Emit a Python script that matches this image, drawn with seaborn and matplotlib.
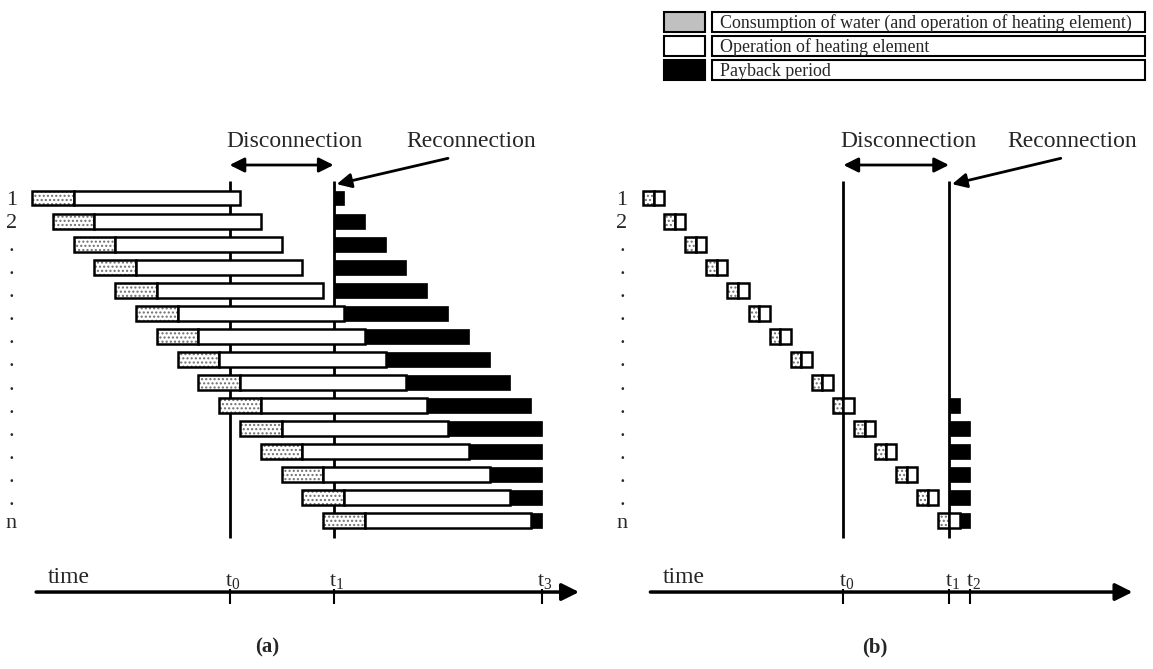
import numpy as np
import matplotlib
matplotlib.use("Agg")
import matplotlib.pyplot as plt
import seaborn as sns
from matplotlib.patches import Rectangle

# ---------------- data (time in "row shift" units) ----------------
rows = list(range(1, 16))
row_labels = ["1", "2"] + ["."] * 12 + ["n"]

# panel (a): long operation of heating element
a_start = [0, 1, 2, 3, 4, 5, 6, 7, 8, 9, 10, 11, 12, 13, 14]
a_dot_end = [2, 3, 4, 5, 6, 7, 8, 9, 10, 11, 12, 13, 14, 15, 16]
a_heat_end = [10, 11, 12, 13, 14, 15, 16, 17, 18, 19, 20, 21, 22, 23, 24]
a_pay_start = [14.5, 14.5, 14.5, 14.5, 14.5, 15, 16, 17, 18, 19, 20, 21, 22, 23, 24]
a_pay_end = [15, 16, 17, 18, 19, 20, 21, 22, 23, 24, 24.5, 24.5, 24.5, 24.5, 24.5]
a_marks = {"t_0": 9.5, "t_1": 14.5, "t_3": 24.5}

# panel (b): short operation of heating element
b_start = [0, 1, 2, 3, 4, 5, 6, 7, 8, 9, 10, 11, 12, 13, 14]
b_dot_end = [0.5, 1.5, 2.5, 3.5, 4.5, 5.5, 6.5, 7.5, 8.5, 9.5, 10.5, 11.5, 12.5, 13.5, 14.5]
b_heat_end = [1, 2, 3, 4, 5, 6, 7, 8, 9, 10, 11, 12, 13, 14, 15]
b_pay_start = [np.nan] * 9 + [14.5, 14.5, 14.5, 14.5, 14.5, 15.0]
b_pay_end = [np.nan] * 9 + [15.0, 15.5, 15.5, 15.5, 15.5, 15.5]
b_marks = {"t_0": 9.5, "t_1": 14.5, "t_2": 15.5}

legend_labels = ["Consumption of water (and operation of heating element)",
                 "Operation of heating element",
                 "Payback period"]
legend_colors = ["#C0C0C0", "white", "black"]

# ---------------- style ----------------
sns.set_style("white")
plt.rcParams["font.family"] = ["Liberation Serif", "DejaVu Serif"]
plt.rcParams["mathtext.fontset"] = "custom"
plt.rcParams["mathtext.rm"] = "Liberation Serif"
plt.rcParams["mathtext.it"] = "Liberation Serif:italic"
plt.rcParams["hatch.linewidth"] = 1.0

W, H = 1153, 669
fig = plt.figure(figsize=(W / 100, H / 100), dpi=100)
fig.patch.set_facecolor("white")

BIG = 17
BAR_H = 0.65
LW = 1.8


def draw_panel(ax, start, dot_end, heat_end, pay_start, pay_end, marks,
               line_top, line_bot, recon_text_x, recon_from, axis_start, axis_end,
               time_x, tag, tag_x):
    start = np.array(start, float)
    dot_end = np.array(dot_end, float)
    heat_end = np.array(heat_end, float)
    pay_start = np.array(pay_start, float)
    pay_end = np.array(pay_end, float)
    keys = list(marks)
    t0, t1 = marks[keys[0]], marks[keys[1]]

    # disconnection / reconnection vertical lines (behind the bars)
    ax.vlines([t0, t1], line_top, line_bot, color="black", lw=2, zorder=1)

    # dotted part: water consumption
    ax.barh(rows, dot_end - start, left=start, height=BAR_H, color="white",
            edgecolor="#6e6e6e", hatch="....", lw=0, zorder=2)
    ax.barh(rows, dot_end - start, left=start, height=BAR_H, fill=False,
            edgecolor="black", lw=LW, zorder=3)
    # white part: heating element only
    ax.barh(rows, heat_end - dot_end, left=dot_end, height=BAR_H, color="white",
            edgecolor="black", lw=LW, zorder=3)
    # black part: payback
    ok = ~np.isnan(pay_start)
    ax.barh(np.array(rows)[ok], (pay_end - pay_start)[ok], left=pay_start[ok],
            height=BAR_H, color="black", edgecolor="black", lw=0.5, zorder=3)

    # row labels
    for r, lab in zip(rows, row_labels):
        ax.text(-1.0, r, lab, fontsize=16, ha="center", va="center_baseline")

    # disconnection arrow + text
    ax.annotate("", xy=(t1, -0.43), xytext=(t0, -0.43),
                arrowprops=dict(arrowstyle="<|-|>", color="black", lw=2,
                                mutation_scale=22, shrinkA=0, shrinkB=0))
    ax.text((t0 + t1) / 2 + 0.6, -1.45, "Disconnection", fontsize=BIG,
            ha="center", va="center")
    ax.text(recon_text_x, -1.45, "Reconnection", fontsize=BIG,
            ha="left", va="center")
    ax.annotate("", xy=(t1 + 0.15, 0.4), xytext=recon_from,
                arrowprops=dict(arrowstyle="-|>", color="black", lw=2,
                                mutation_scale=22, shrinkA=0, shrinkB=0))

    # time axis
    ty = 18.08
    ax.annotate("", xy=(axis_end, ty), xytext=(axis_start, ty),
                arrowprops=dict(arrowstyle="-|>", color="black", lw=2.5,
                                mutation_scale=26, shrinkA=0, shrinkB=0))
    for k, v in marks.items():
        ax.vlines(v, ty - 0.15, ty + 0.5, color="black", lw=1.5)
        ax.text(v - 0.2, ty - 0.25, r"$\mathrm{" + k + "}$", fontsize=BIG - 1,
                ha="left", va="baseline")
    ax.text(time_x, ty - 0.4, "time", fontsize=BIG, ha="left", va="baseline")
    ax.text(tag_x, 20.5, tag, fontsize=15, fontweight="bold",
            ha="center", va="center")

    sns.despine(ax=ax, left=True, bottom=True)
    ax.set_xticks([])
    ax.set_yticks([])
    ax.patch.set_visible(False)


# panel (a): x pixel = 32 + 20.8*u
ax_a = fig.add_axes([0, 0, 600 / W, 1])
ax_a.set_xlim(-32 / 20.8, 568 / 20.8)
ax_a.set_ylim(1 + 471 / 23.07, 1 - 198 / 23.07)
draw_panel(ax_a, a_start, a_dot_end, a_heat_end, a_pay_start, a_pay_end, a_marks,
           0.26, 15.74, 18.0, (20.0, -0.72), 0.2, 26.3, 0.77, "(a)", 11.3)

# panel (b): x pixel = 643 + 21.1*u
ax_b = fig.add_axes([600 / W, 0, 553 / W, 1])
ax_b.set_xlim(-43 / 21.1, 510 / 21.1)
ax_b.set_ylim(1 + 471 / 23.07, 1 - 198 / 23.07)
draw_panel(ax_b, b_start, b_dot_end, b_heat_end, b_pay_start, b_pay_end, b_marks,
           0.26, 15.74, 17.25, (19.8, -0.72), 0.35, 23.2, 0.95, "(b)", 11.0)

# ---------------- legend (figure pixel coordinates) ----------------
lg = fig.add_axes([0, 0, 1, 1])
lg.set_xlim(0, W)
lg.set_ylim(H, 0)
lg.axis("off")
for i, (lab, col) in enumerate(zip(legend_labels, legend_colors)):
    yc = 22 + 24 * i
    lg.add_patch(Rectangle((664, yc - 10), 41, 20, facecolor=col,
                           edgecolor="black", lw=1.5))
    lg.add_patch(Rectangle((712, yc - 10), 433, 20, facecolor="white",
                           edgecolor="black", lw=1.5))
    lg.text(720, yc + 1, lab, fontsize=12.9, ha="left", va="center")

fig.savefig("out.png", dpi=100, facecolor="white")
